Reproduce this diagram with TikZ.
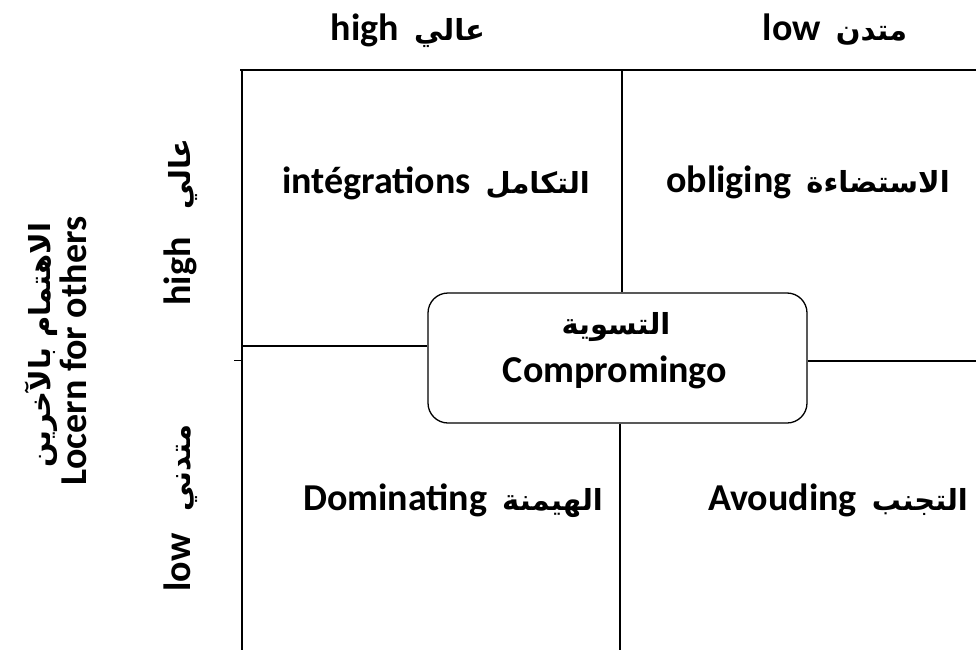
\documentclass[tikz,border=0pt]{standalone}
\usepackage{fontspec}
\setmainfont{Carlito}
\newfontfamily\arabicfont[Script=Arabic]{DejaVu Sans}
\TeXXeTstate=1
\newcommand\AR[1]{{\arabicfont\bfseries\fontsize{29}{34}\selectfont\beginR #1\endR}}
\newcommand\gapsp{\hspace{15pt}}
\begin{document}
\begin{tikzpicture}[x=1pt,y=-1pt,
  lbl/.style={font=\fontsize{38}{42}\selectfont\bfseries, anchor=base, inner sep=0pt},
  vlbl/.style={lbl, rotate=90},
  gridline/.style={line width=1.6pt, black},
  compbox/.style={draw, rounded corners=20pt, line width=1.3pt, minimum width=379pt, minimum height=130pt, inner sep=0pt}]
\useasboundingbox (0,0) rectangle (976,650);
% top labels
\node[lbl] (tophigh) at (408,41) {high\gapsp\AR{عالي}};
\node[lbl] (toplow) at (835,41) {low\gapsp\AR{متدن}};
% left labels
\node[vlbl] (leftar) at (50,345) {\AR{الاهتمام بالآخرين}};
\node[vlbl] (lefteng) at (86,351) {Locern for others};
\node[vlbl] (lefthigh) at (190,222) {high\hspace{28pt}\AR{عالي}};
\node[vlbl] (leftlow) at (190,508) {low\hspace{22pt}\AR{متدني}};
% grid
\coordinate (tl) at (240,70);
\coordinate (tr) at (976,70);
\coordinate (vl) at (242,70);
\coordinate (bl) at (242,650);
\coordinate (tm) at (622,70);
\coordinate (bm) at (620,650);
\coordinate (lh) at (242,346);
\coordinate (rh) at (976,361);
\coordinate (tk1) at (234,360);
\coordinate (tk2) at (242,360);
\node[compbox] (box) at (617.5,358) {};
\node[lbl] (boxar) at (616,334) {\AR{التسوية}};
\node[lbl] (boxen) at (615,382) {Compromingo};
\draw[gridline] (tl) -- (tr);
\draw[gridline] (vl) -- (bl);
\draw[gridline] (tm) -- (tm |- box.north);
\draw[gridline] (bm |- box.south) -- (bm);
\draw[gridline] (lh) -- (lh -| box.west);
\draw[gridline] (box.east |- rh) -- (rh);
\draw[line width=1pt] (tk1) -- (tk2);
% quadrant labels
\node[lbl] (integ) at (436,193) {intégrations\gapsp\AR{التكامل}};
\node[lbl] (oblig) at (808,192) {obliging\gapsp\AR{الاستضاءة}};
\node[lbl] (domin) at (453,510) {Dominating\gapsp\AR{الهيمنة}};
\node[lbl] (avoid) at (838,510) {Avouding\gapsp\AR{التجنب}};
\end{tikzpicture}
\end{document}
